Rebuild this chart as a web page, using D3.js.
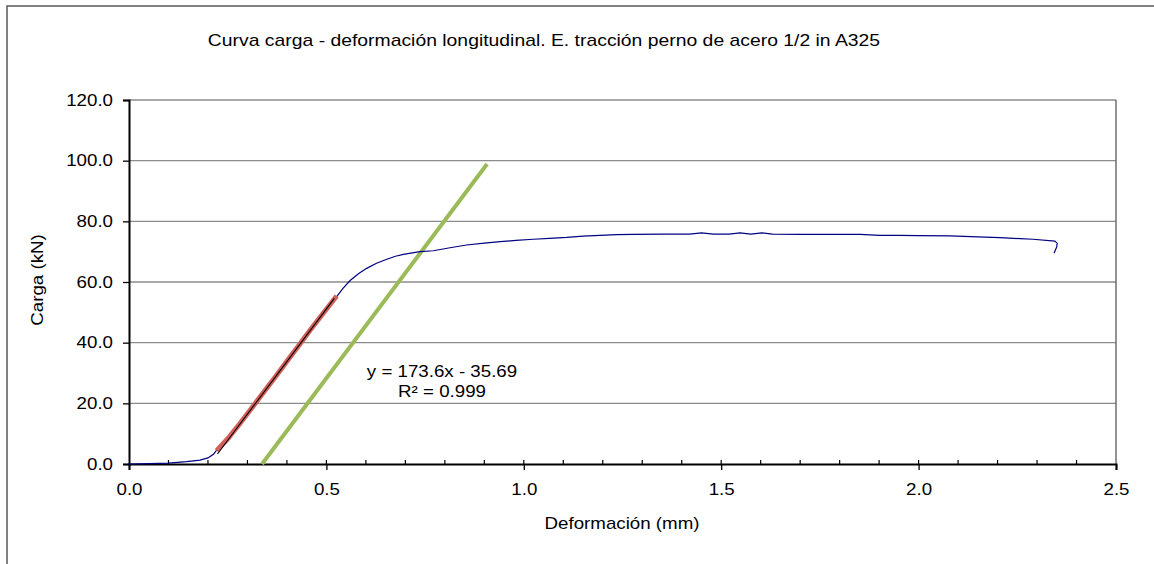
<!DOCTYPE html>
<html>
<head>
<meta charset="utf-8">
<script src="https://cdn.jsdelivr.net/npm/d3@7"></script>
<style>
  body { margin: 0; background: #fff; font-family: "Liberation Sans", Arial, sans-serif; }
  svg text { fill: #000; }
</style>
</head>
<body>
<svg id="chart"></svg>
<script>
let width = 1154
let height = 564
let kx = 1.17 // el texto del original es mas ancho

// ensayo: deformacion (mm) / carga (kN)
let defo = [0, 0.05, 0.1, 0.146, 0.18, 0.2, 0.214, 0.222, 0.25, 0.3, 0.35, 0.4, 0.45, 0.5, 0.526, 0.542, 0.56, 0.582, 0.602, 0.627, 0.653, 0.675, 0.695, 0.737, 0.771, 0.813, 0.855, 0.9, 0.94, 0.98, 1.024, 1.065, 1.109, 1.15, 1.193, 1.235, 1.277, 1.35, 1.42, 1.45, 1.48, 1.52, 1.548, 1.575, 1.603, 1.63, 1.7, 1.78, 1.852, 1.902, 1.95, 2.0, 2.08, 2.15, 2.206, 2.257, 2.29, 2.345, 2.351, 2.35, 2.343]
let carga = [0, 0.1, 0.3, 0.76, 1.3, 2.0, 3.2, 4.6, 8.0, 16.4, 25.1, 34.0, 42.5, 51.0, 55.2, 57.9, 60.5, 62.8, 64.5, 66.2, 67.5, 68.5, 69.1, 70.0, 70.3, 71.3, 72.2, 72.8, 73.3, 73.7, 74.1, 74.4, 74.7, 75.1, 75.4, 75.6, 75.7, 75.8, 75.8, 76.2, 75.8, 75.8, 76.2, 75.8, 76.2, 75.8, 75.7, 75.7, 75.7, 75.4, 75.4, 75.3, 75.2, 74.9, 74.6, 74.3, 74.1, 73.5, 72.8, 71.6, 69.5]

// tramo elastico usado para el ajuste
let elasX = [0.222, 0.25, 0.28, 0.31, 0.34, 0.37, 0.4, 0.43, 0.46, 0.49, 0.526]
let elasY = [4.4, 8.3, 13.2, 18.3, 23.5, 28.6, 33.9, 39.1, 44.3, 49.4, 55.4]

// linea de tendencia y paralela (offset)
let trendX = [0.224, 0.52]
let trendY = [3.3, 54.6]
let offsetX = [0.337, 0.907]
let offsetY = [0, 98.9]

let yTicks = [0, 20, 40, 60, 80, 100, 120]
let xTicks = [0, 0.5, 1.0, 1.5, 2.0, 2.5]
let xMinor = d3.range(1, 25).map(d => d / 10)

let title = "Curva carga - deformación longitudinal. E. tracción perno de acero 1/2 in A325"
let eqText = "y = 173.6x - 35.69"
let r2Text = "R² = 0.999"

let svg = d3.select('#chart')
    .attr('width', width)
    .attr('height', height)

let pad = { left: 129, right: 1116, top: 100, bottom: 464 }

let x = d3.scaleLinear().domain([0, 2.5]).range([pad.left, pad.right])
let y = d3.scaleLinear().domain([0, 120]).range([pad.bottom, pad.top])

// marco exterior
svg.append('rect')
    .attr('x', 7).attr('y', 6)
    .attr('width', 1200).attr('height', 600)
    .attr('fill', 'none')
    .attr('stroke', '#595959')
    .attr('stroke-width', 1.5)

// grid
svg.append('g')
    .selectAll('line')
    .data(yTicks.filter(d => d > 0))
    .join('line')
    .attr('x1', pad.left).attr('x2', pad.right)
    .attr('y1', d => y(d)).attr('y2', d => y(d))
    .attr('stroke', '#8c8c8c')
    .attr('stroke-width', 1.3)

svg.append('line')
    .attr('x1', pad.right).attr('x2', pad.right)
    .attr('y1', pad.top).attr('y2', pad.bottom)
    .attr('stroke', '#595959')
    .attr('stroke-width', 1.3)

// ejes
let yAxis = d3.axisLeft(y).tickValues(yTicks).tickSize(6).tickFormat(d3.format('.1f'))
let gy = svg.append('g').attr('transform', `translate(${pad.left},0)`).call(yAxis)
gy.select('.domain').attr('stroke', '#000').attr('stroke-width', 2)
gy.selectAll('.tick line').attr('stroke', '#000').attr('stroke-width', 1.3)
gy.selectAll('.tick text')
    .attr('x', -16 / kx)
    .attr('transform', `scale(${kx},1)`)
    .style('font-size', '16px')
    .style('font-family', '"Liberation Sans", Arial, sans-serif')

let xAxis = d3.axisBottom(x).tickValues(xTicks).tickSize(6).tickFormat(d3.format('.1f'))
let gx = svg.append('g').attr('transform', `translate(0,${pad.bottom})`).call(xAxis)
gx.select('.domain').attr('stroke', '#000').attr('stroke-width', 2)
gx.selectAll('.tick line').attr('stroke', '#000').attr('stroke-width', 1.3)
gx.selectAll('.tick text')
    .attr('y', 20)
    .attr('transform', `scale(${kx},1)`)
    .style('font-size', '16px')
    .style('font-family', '"Liberation Sans", Arial, sans-serif')

// ticks menores (hacia adentro)
svg.append('g')
    .selectAll('line')
    .data(xMinor)
    .join('line')
    .attr('x1', d => x(d)).attr('x2', d => x(d))
    .attr('y1', pad.bottom).attr('y2', pad.bottom - 4)
    .attr('stroke', '#000')
    .attr('stroke-width', 1.2)

let line = d3.line().x(d => x(d[0])).y(d => y(d[1]))

// paralela verde
svg.append('path')
    .datum(d3.zip(offsetX, offsetY))
    .attr('d', line)
    .attr('fill', 'none')
    .attr('stroke', '#9bbb59')
    .attr('stroke-width', 4)

// curva del ensayo
svg.append('path')
    .datum(d3.zip(defo, carga))
    .attr('d', line)
    .attr('fill', 'none')
    .attr('stroke', '#000080')
    .attr('stroke-width', 1.2)

// tramo elastico
svg.append('path')
    .datum(d3.zip(elasX, elasY))
    .attr('d', line)
    .attr('fill', 'none')
    .attr('stroke', '#d0605a')
    .attr('stroke-width', 5)

// tendencia lineal
svg.append('path')
    .datum(d3.zip(trendX, trendY))
    .attr('d', line)
    .attr('fill', 'none')
    .attr('stroke', '#000')
    .attr('stroke-width', 1.1)

// textos, estirados en horizontal
function label(px, py, txt, rot, k) {
    svg.append('text')
        .attr('transform', `translate(${px},${py}) rotate(${rot || 0}) scale(${k || kx},1)`)
        .attr('text-anchor', 'middle')
        .style('font-size', '16px')
        .text(txt)
}

label(544, 46, title, 0, 1.21)
label(43, 280, 'Carga (kN)', -90)
label(622, 529, 'Deformación (mm)')
label(442, 377, eqText)
label(442, 397, r2Text)
</script>
</body>
</html>
